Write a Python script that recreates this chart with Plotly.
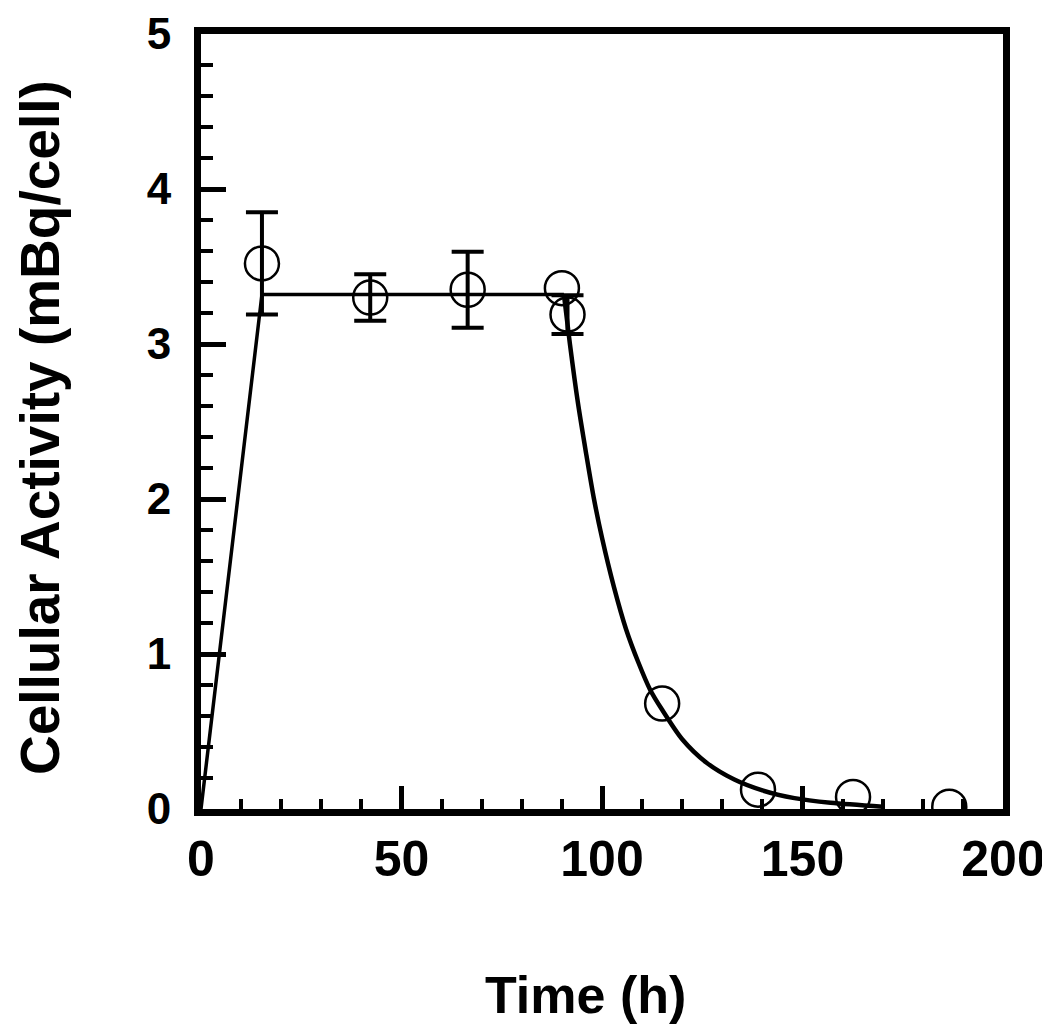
import plotly.graph_objects as go

# measured points with error bars
err_t = [15.2, 42.2, 66.5, 91.4]
err_y = [3.52, 3.30, 3.35, 3.19]
err_sd = [0.33, 0.15, 0.245, 0.125]

# measured points without visible error bars
pt_t = [90.0, 115.0, 138.9, 162.6, 186.6]
pt_y = [3.36, 0.68, 0.125, 0.078, 0.015]

# fitted curve: uptake + plateau, then efflux
uptake_t = [0, 15.2, 90.5]
uptake_y = [0, 3.32, 3.32]
efflux_t = [90.5, 92, 94, 96, 98, 100, 103, 106, 109, 112, 115, 120, 126, 133, 140, 148, 157, 170]
efflux_y = [3.32, 3.0, 2.62, 2.30, 2.0, 1.75, 1.43, 1.16, 0.95, 0.77, 0.64, 0.45, 0.30, 0.19, 0.12, 0.07, 0.04, 0.015]

x_ticks = [0, 50, 100, 150, 200]
y_ticks = [0, 1, 2, 3, 4, 5]

FONT = "Liberation Sans, Arial, Helvetica, sans-serif"
circle = dict(symbol="circle-open", size=34, color="black", line=dict(width=2.5))

fig = go.Figure()
fig.add_trace(go.Scatter(x=uptake_t, y=uptake_y, mode="lines",
                         line=dict(color="black", width=3.5), hoverinfo="skip"))
fig.add_trace(go.Scatter(x=efflux_t, y=efflux_y, mode="lines",
                         line=dict(color="black", width=4.5, shape="spline", smoothing=0.8), hoverinfo="skip"))
fig.add_trace(go.Scatter(
    x=err_t, y=err_y, mode="markers", marker=circle,
    error_y=dict(type="data", array=err_sd, visible=True, color="black", thickness=4, width=16),
    hovertemplate="%{x} h: %{y:.2f} mBq/cell<extra></extra>",
))
fig.add_trace(go.Scatter(x=pt_t, y=pt_y, mode="markers", marker=circle,
                         hovertemplate="%{x} h: %{y:.2f} mBq/cell<extra></extra>"))

axis_common = dict(
    showgrid=False, zeroline=False, showline=True, linecolor="black", linewidth=7, mirror=True,
    ticks="inside", tickcolor="black", tickwidth=5, ticklabeloverflow="allow", automargin=False,
)

fig.update_layout(
    width=1050, height=1027,
    paper_bgcolor="white", plot_bgcolor="white",
    margin=dict(l=193, r=55, t=26, b=226),
    showlegend=False,
    font=dict(family=FONT, color="black"),
    xaxis=dict(
        **axis_common, range=[0, 200], tickvals=x_ticks, ticklen=23, ticklabelstandoff=0,
        tickfont=dict(family=FONT, size=50, color="black", weight="bold"),
        minor=dict(dtick=10, ticks="inside", ticklen=10, tickwidth=4, tickcolor="black", showgrid=False),
    ),
    yaxis=dict(
        **axis_common, range=[0, 5.0001], tickvals=y_ticks, ticklen=25, ticklabelstandoff=14,
        tickfont=dict(family=FONT, size=44, color="black", weight="bold"),
        minor=dict(dtick=0.2, ticks="inside", ticklen=12, tickwidth=3.5, tickcolor="black", showgrid=False),
    ),
    annotations=[
        dict(text="Time (h)", xref="paper", yref="paper", x=0.48, y=-0.240,
             xanchor="center", yanchor="middle", showarrow=False,
             font=dict(family=FONT, size=52, weight="bold")),
        dict(text="Cellular Activity (mBq/cell)", xref="paper", yref="paper", x=-0.2007, y=0.4916,
             xanchor="center", yanchor="middle", textangle=-90, showarrow=False,
             font=dict(family=FONT, size=55, weight="bold")),
    ],
)

fig.write_html("out.html")
